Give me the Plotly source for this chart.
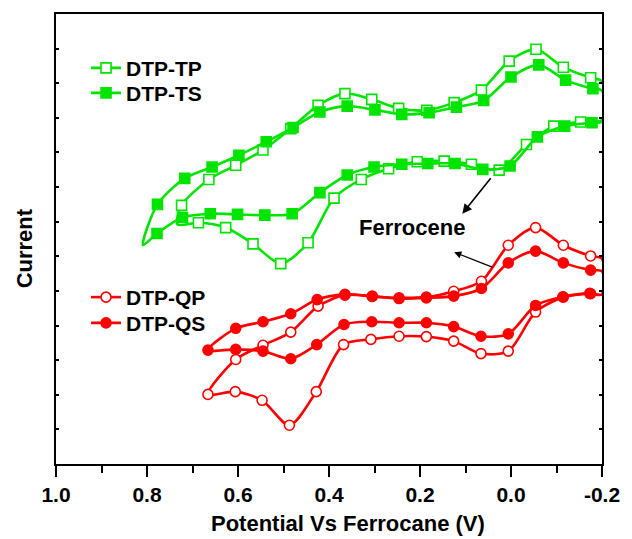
import plotly.graph_objects as go

# ---------------- data (potential in V, current in arbitrary units) ----------------
# Each loop is listed as a closed path; *_mark flags which points carry a symbol.
tp_x = [0.733, 0.724, 0.664, 0.605, 0.545, 0.484, 0.424, 0.365, 0.306, 0.247, 0.185, 0.125, 0.065,
        0.004, -0.055, -0.115, -0.175, -0.200,
        -0.200, -0.153, -0.094, -0.034, 0.026, 0.087, 0.147, 0.206, 0.269, 0.329, 0.389, 0.446,
        0.506, 0.567, 0.627, 0.687, 0.733]
tp_y = [6.92, 7.47, 8.22, 8.63, 9.07, 9.69, 10.36, 10.70, 10.535, 10.275, 10.22, 10.44, 10.80,
        11.64, 11.98, 11.46, 11.16, 11.06,
        9.94, 9.88, 9.76, 9.23, 8.49, 8.66, 8.75, 8.73, 8.53, 8.22, 7.68, 6.39,
        5.79, 6.36, 6.83, 6.97, 6.92]
tp_mark = [0, 1, 1, 1, 1, 1, 1, 1, 1, 1, 1, 1, 1, 1, 1, 1, 1, 0,
           0, 1, 1, 1, 1, 1, 1, 1, 1, 1, 1, 1, 1, 1, 1, 1, 0]

ts_x = [0.809, 0.777, 0.717, 0.657, 0.598, 0.538, 0.479, 0.420, 0.360, 0.299, 0.240, 0.180, 0.120,
        0.060, 0.000, -0.061, -0.120, -0.180, -0.200,
        -0.200, -0.178, -0.118, -0.058, 0.002, 0.062, 0.123, 0.183, 0.240, 0.301, 0.360, 0.420,
        0.481, 0.541, 0.601, 0.661, 0.722, 0.778, 0.809]
ts_y = [6.32, 7.50, 8.25, 8.58, 8.92, 9.31, 9.72, 10.17, 10.34, 10.23, 10.10, 10.15, 10.31,
        10.50, 11.18, 11.53, 11.09, 10.84, 10.79,
        9.89, 9.86, 9.76, 9.45, 8.61, 8.51, 8.68, 8.68, 8.66, 8.58, 8.35, 7.84,
        7.23, 7.19, 7.21, 7.23, 7.12, 6.66, 6.32]
ts_mark = [0, 1, 1, 1, 1, 1, 1, 1, 1, 1, 1, 1, 1, 1, 1, 1, 1, 1, 0,
           0, 1, 1, 1, 1, 1, 1, 1, 1, 1, 1, 1, 1, 1, 1, 1, 1, 1, 0]

qp_x = [0.666, 0.605, 0.545, 0.484, 0.424, 0.365, 0.305, 0.246, 0.186, 0.126, 0.065, 0.006,
        -0.054, -0.115, -0.175, -0.200,
        -0.200, -0.175, -0.115, -0.054, 0.006, 0.066, 0.126, 0.186, 0.246, 0.308, 0.368, 0.428,
        0.487, 0.547, 0.606, 0.666]
qp_y = [2.01, 3.02, 3.43, 3.81, 4.56, 4.88, 4.84, 4.80, 4.82, 4.99, 5.28, 6.32,
        6.83, 6.32, 6.01, 5.93,
        4.90, 4.92, 4.82, 4.39, 3.26, 3.19, 3.55, 3.68, 3.69, 3.60, 3.45, 2.09,
        1.12, 1.84, 2.09, 2.01]
qp_mark = [1, 1, 1, 1, 1, 1, 1, 1, 1, 1, 1, 1, 1, 1, 1, 0,
           0, 1, 1, 1, 1, 1, 1, 1, 1, 1, 1, 1, 1, 1, 1, 0]

qs_x = [0.666, 0.605, 0.545, 0.484, 0.426, 0.365, 0.305, 0.246, 0.186, 0.126, 0.065, 0.006,
        -0.054, -0.115, -0.175, -0.200,
        -0.200, -0.173, -0.114, -0.054, 0.006, 0.066, 0.126, 0.186, 0.246, 0.306, 0.367, 0.427,
        0.484, 0.545, 0.605, 0.666]
qs_y = [3.29, 3.92, 4.11, 4.34, 4.75, 4.90, 4.85, 4.78, 4.80, 4.85, 5.07, 5.81,
        6.15, 5.81, 5.60, 5.57,
        4.90, 4.93, 4.83, 4.58, 3.76, 3.69, 3.97, 4.08, 4.08, 4.11, 4.03, 3.45,
        3.04, 3.26, 3.31, 3.29]
qs_mark = [1, 1, 1, 1, 1, 1, 1, 1, 1, 1, 1, 1, 1, 1, 1, 0,
           0, 1, 1, 1, 1, 1, 1, 1, 1, 1, 1, 1, 1, 1, 1, 0]

x_tick_vals = [1.0, 0.8, 0.6, 0.4, 0.2, 0.0, -0.2]
x_tick_text = ["1.0", "0.8", "0.6", "0.4", "0.2", "0.0", "-0.2"]

# ---------------- styling ----------------
GREEN = "#00E400"
RED = "#FF0000"
FONT = "Liberation Sans, Arial, sans-serif"

series = [
    ("DTP-TP", tp_x, tp_y, tp_mark, GREEN, "square", True, "legend", 0.925),
    ("DTP-TS", ts_x, ts_y, ts_mark, GREEN, "square", False, "legend2", 0.8696),
    ("DTP-QP", qp_x, qp_y, qp_mark, RED, "circle", True, "legend3", 0.4156),
    ("DTP-QS", qs_x, qs_y, qs_mark, RED, "circle", False, "legend4", 0.3584),
]

legend_font = dict(size=21, family=FONT, weight="bold", color="black")
fig = go.Figure()
legends = {}
for name, xs, ys, mk, col, sym, hollow, leg, ly in series:
    mstyle = dict(symbol=sym, size=10,
                  color="white" if hollow else col,
                  line=dict(color=col, width=1.6))
    fig.add_trace(go.Scatter(x=xs, y=ys, mode="lines",
                             line=dict(color=col, width=2.6, shape="spline", smoothing=0.8),
                             showlegend=False, hoverinfo="skip"))
    fig.add_trace(go.Scatter(x=[a for a, m in zip(xs, mk) if m],
                             y=[b for b, m in zip(ys, mk) if m],
                             mode="markers", marker=mstyle, showlegend=False, name=name))
    fig.add_trace(go.Scatter(x=[None], y=[None], mode="lines+markers", name=name,
                             line=dict(color=col, width=2.6), marker=mstyle,
                             legend=leg, showlegend=True))
    legends[leg] = dict(x=0.055, y=ly, xanchor="left", yanchor="top",
                        bgcolor="rgba(0,0,0,0)", borderwidth=0, font=legend_font)

axis_line = dict(showline=True, linecolor="black", linewidth=2, showgrid=False, zeroline=False)

fig.update_layout(
    width=632, height=539,
    margin=dict(l=56, r=22, t=14, b=75),
    paper_bgcolor="white", plot_bgcolor="white",
    font=dict(family=FONT, color="black"),
    xaxis=dict(range=[1.0, -0.2], tickvals=x_tick_vals, ticktext=x_tick_text,
               ticks="outside", ticklen=11, tickwidth=2, tickcolor="black",
               minor=dict(dtick=0.1, tick0=0, ticks="outside", ticklen=7, tickwidth=2, tickcolor="black"),
               tickfont=dict(size=21, family=FONT, weight="bold", color="black"),
               mirror=True, **axis_line),
    xaxis2=dict(range=[1.0, -0.2], overlaying="x", side="top", dtick=0.1, tick0=0,
                ticks="inside", ticklen=3, tickwidth=2, tickcolor="black",
                showticklabels=False, showline=False, showgrid=False, zeroline=False),
    yaxis=dict(range=[0, 13], dtick=1, tick0=0, ticks="inside", ticklen=3, tickwidth=2,
               tickcolor="black", showticklabels=False, mirror="allticks", **axis_line),
    showlegend=True,
    **legends,
)

# axis titles
fig.add_annotation(text="Potential Vs Ferrocane (V)", xref="paper", yref="paper",
                   x=0.534, y=-0.133, xanchor="center", yanchor="middle", showarrow=False,
                   font=dict(size=22, family=FONT, weight="bold", color="black"))
fig.add_annotation(text="Current", xref="paper", yref="paper", textangle=-90,
                   x=-0.058, y=0.48, xanchor="center", yanchor="middle", showarrow=False,
                   font=dict(size=22, family=FONT, weight="bold", color="black"))

# Ferrocene label and arrows
fig.add_annotation(text="Ferrocene", x=0.218, y=6.83, xref="x", yref="y", showarrow=False,
                   font=dict(size=22, family=FONT, weight="bold", color="black"))
fig.add_annotation(x=0.107, y=7.23, ax=0.042, ay=8.30, xref="x", yref="y", axref="x", ayref="y",
                   text="", showarrow=True, arrowhead=2, arrowsize=1.2, arrowwidth=1.6,
                   arrowcolor="black")
fig.add_annotation(x=0.125, y=6.12, ax=0.038, ay=5.67, xref="x", yref="y", axref="x", ayref="y",
                   text="", showarrow=True, arrowhead=2, arrowsize=1.2, arrowwidth=1.2,
                   arrowcolor="black")

fig.write_html("out.html", config={"displayModeBar": False},
               post_script="document.body.style.margin='0';document.body.style.padding='0';")
